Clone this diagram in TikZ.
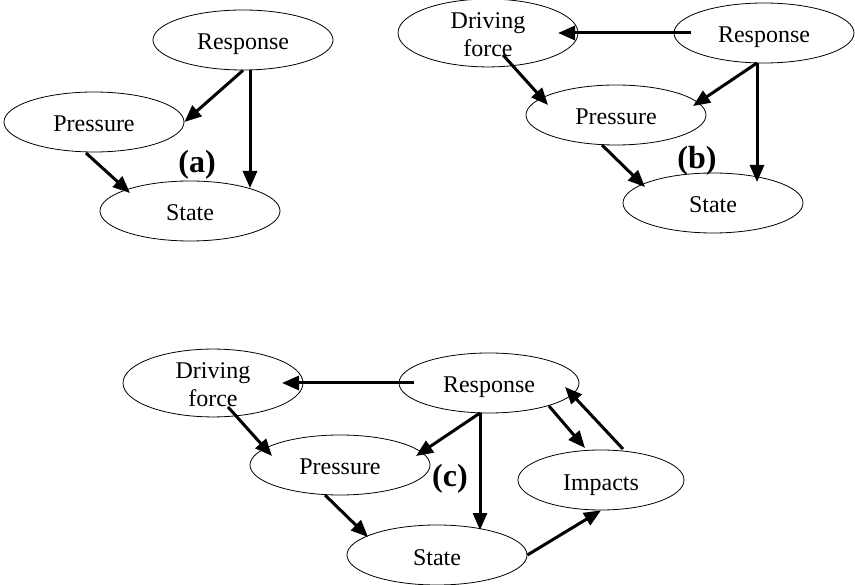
\documentclass[tikz,border=0pt]{standalone}
\usepackage{fontspec}
\setmainfont{Liberation Serif}
\usetikzlibrary{shapes.geometric,arrows.meta}

\begin{document}
\begin{tikzpicture}[x=1pt,y=-1pt,
    box/.style={draw,ellipse,line width=0.8pt,minimum width=180pt,minimum height=60pt,
        inner sep=0pt,align=center,font=\fontsize{24}{28.5}\selectfont,
        text height=20pt,text depth=0pt},
    twoline/.style={text height=48pt,text depth=0pt},
    arr/.style={-{Triangle[length=17pt,width=14pt]},line width=3pt},
    tag/.style={font=\fontsize{32}{34}\selectfont\bfseries}]
    \useasboundingbox (0,0) rectangle (855,585);

    % (a)
    \node[box] (respA)  at (243,40)  {Response};
    \node[box] (pressA) at (94,122)  {Pressure};
    \node[box] (stateA) at (190,211) {State};
    \node[tag] (labA)   at (197,165) {(a)};
    \draw[arr] (respA.south) -- (pressA.east);
    \draw[arr] ([shift={(7,30)}]respA.center) -- ([shift={(60,-23)}]stateA.center);
    \draw[arr] ([shift={(-8,31)}]pressA.center) -- ([shift={(-60,-18)}]stateA.center);

    % (b)
    \node[box,twoline] (drivB) at (488,33) {Driving\\force};
    \node[box] (respB)  at (764,33)  {Response};
    \node[box] (pressB) at (616,115) {Pressure};
    \node[box] (stateB) at (713,203) {State};
    \node[tag] (labB)   at (697,161) {(b)};
    \draw[arr] ([shift={(-73,0)}]respB.center) -- ([shift={(70,0)}]drivB.center);
    \draw[arr] ([shift={(15,22)}]drivB.center) -- ([shift={(-68,-10)}]pressB.center);
    \draw[arr] ([shift={(-7,30)}]respB.center) -- ([shift={(77,-9)}]pressB.center);
    \draw[arr] ([shift={(-7,30)}]respB.center) -- ([shift={(44,-21)}]stateB.center);
    \draw[arr] ([shift={(-14,30)}]pressB.center) -- ([shift={(-68,-16)}]stateB.center);

    % (c)
    \node[box,twoline] (drivC) at (213,383) {Driving\\force};
    \node[box] (respC)  at (489,383) {Response};
    \node[box] (pressC) at (340,465) {Pressure};
    \node[box] (stateC) at (437,555) {State};
    \node[box,minimum width=166pt] (impC) at (601,480) {Impacts};
    \node[tag] (labC)   at (450,479) {(c)};
    \draw[arr] ([shift={(-75,0)}]respC.center) -- ([shift={(69,0)}]drivC.center);
    \draw[arr] ([shift={(15,24)}]drivC.center) -- ([shift={(-68,-9)}]pressC.center);
    \draw[arr] ([shift={(-9,30)}]respC.center) -- ([shift={(76,-9)}]pressC.center);
    \draw[arr] ([shift={(-9,30)}]respC.center) -- ([shift={(43,-25)}]stateC.center);
    \draw[arr] ([shift={(-15,30)}]pressC.center) -- ([shift={(-69,-18)}]stateC.center);
    \draw[arr] ([shift={(60,23)}]respC.center) -- ([shift={(-16,-32)}]impC.center);
    \draw[arr] ([shift={(22,-31)}]impC.center) -- ([shift={(76,4)}]respC.center);
    \draw[arr] (stateC.east) -- (impC.south);
\end{tikzpicture}
\end{document}
